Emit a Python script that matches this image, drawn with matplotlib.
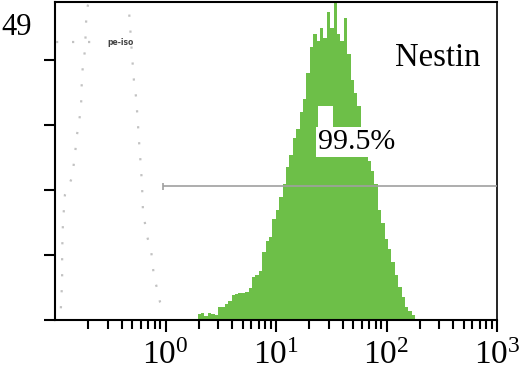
import numpy as np
import matplotlib
matplotlib.use("Agg")
from matplotlib import pyplot as plt
from matplotlib import patches
from matplotlib import ticker

# green Nestin histogram, counts per log channel (1/32 decade bins)
nestin_log_lo = 0.29
nestin_log_hi = 2.26
nestin_counts = [1.0, 1.1, 0.6, 1.1, 1.0, 0.7, 2.0, 2.0, 2.4, 3.0,
                 3.8, 4.0, 4.1, 4.2, 4.3, 5.0, 6.6, 7.0, 7.6, 10.5,
                 12.2, 12.8, 15.5, 17.0, 19.0, 21.0, 23.5, 25.5, 28.0, 29.5,
                 32.0, 34.0, 38.0, 42.0, 44.0, 43.0, 45.0, 43.5, 47.5, 45.0,
                 49.0, 44.0, 43.0, 46.5, 41.0, 37.0, 35.0, 33.0, 27.0, 25.7,
                 24.5, 23.0, 21.0, 17.0, 14.9, 12.5, 11.0, 9.0, 7.0, 5.1,
                 3.5, 2.0, 1.4, 0.8]

# isotype control (dotted outline)
iso_fl = [0.113, 0.116, 0.116, 0.118, 0.123, 0.143, 0.152, 0.158, 0.165, 0.172,
          0.175, 0.179, 0.187, 0.191, 0.195, 0.30,
          0.468, 0.478, 0.498, 0.508, 0.519, 0.541, 0.552, 0.564, 0.575, 0.587,
          0.612, 0.625, 0.652, 0.681, 0.740, 0.787, 0.838, 0.891, 1.0]
iso_counts = [1.8, 5.9, 10.5, 14.9, 19.3, 22.0, 25.7, 28.5, 30.5, 32.8,
              37.0, 39.3, 41.6, 45.8, 48.0, 60.0,
              47.5, 45.3, 40.8, 38.8, 36.7, 34.4, 32.4, 30.0, 27.7, 25.7,
              21.1, 16.9, 14.9, 12.9, 10.8, 6.6, 4.9, 2.8, 1.2]

# marker gate
gate_lo = 0.95
gate_hi = 1000
gate_y = 20.6

y_max = 49
y_ticks = [0, 10, 20, 30, 40]
x_major = [1, 10, 100, 1000]

plt.rcParams['mathtext.fontset'] = 'stix'
plt.rcParams['font.family'] = ['Liberation Serif', 'DejaVu Serif']

fig = plt.figure(figsize=(5.2, 3.86), dpi=100)
ax = fig.add_axes([55/520, 1-320/386, 442/520, 318/386])

edges = np.logspace(nestin_log_lo, nestin_log_hi, len(nestin_counts)+1)
ax.stairs(nestin_counts, edges, fill=True, color='#6dbf48', zorder=2)

ax.plot(iso_fl, iso_counts, color='#c2c2c2', lw=1.6,
        linestyle=(0, (1, 6.2)), label='pe-iso', zorder=3)

ax.hlines(gate_y, gate_lo, gate_hi, color='#a0a0a0', lw=1.2, zorder=4)
ax.vlines(gate_lo, gate_y-0.5, gate_y+0.5, color='#a0a0a0', lw=1.2, zorder=4)

# white cut-out above the percentage label
ax.add_patch(patches.Rectangle((0.595, 0.607), 0.034, 0.066, transform=ax.transAxes,
                               facecolor='white', edgecolor='none', zorder=5))
ax.text(0.595, 0.56, '99.5%', transform=ax.transAxes, fontsize=21.5, ha='left', va='center',
        zorder=6, bbox=dict(facecolor='white', edgecolor='none', pad=1.5))
ax.text(0.770, 0.824, 'Nestin', transform=ax.transAxes, fontsize=23.5,
        ha='left', va='center')
ax.text(-0.052, 0.921, '49', transform=ax.transAxes, fontsize=22,
        ha='right', va='center')

leg = ax.legend(loc='center left', bbox_to_anchor=(0.003, 0.874), frameon=False,
                fontsize=5.5, handlelength=5.6, handletextpad=1.1,
                borderaxespad=0, borderpad=0)
for t in leg.get_texts():
    t.set_color('#444444')
    t.set_family('DejaVu Sans')
    t.set_weight('bold')

ax.set_xscale('log')
ax.set_xlim(0.1, 1000)
ax.set_ylim(0, y_max)
ax.xaxis.set_major_locator(ticker.FixedLocator(x_major))
ax.xaxis.set_major_formatter(ticker.LogFormatterMathtext())
ax.xaxis.set_minor_locator(ticker.LogLocator(base=10, subs=np.arange(2, 10), numticks=20))
ax.xaxis.set_minor_formatter(ticker.NullFormatter())
ax.set_yticks(y_ticks)
ax.set_yticklabels([])

ax.tick_params(axis='x', which='major', direction='out', length=8.5, width=1.5,
               labelsize=24, pad=6)
ax.tick_params(axis='x', which='minor', direction='out', length=6.5, width=1.5)
ax.tick_params(axis='y', which='major', direction='out', length=8, width=1.5)
for s in ax.spines.values():
    s.set_linewidth(1.5)
ax.spines['right'].set_linewidth(1.2)

fig.savefig('out.png', dpi=100)
